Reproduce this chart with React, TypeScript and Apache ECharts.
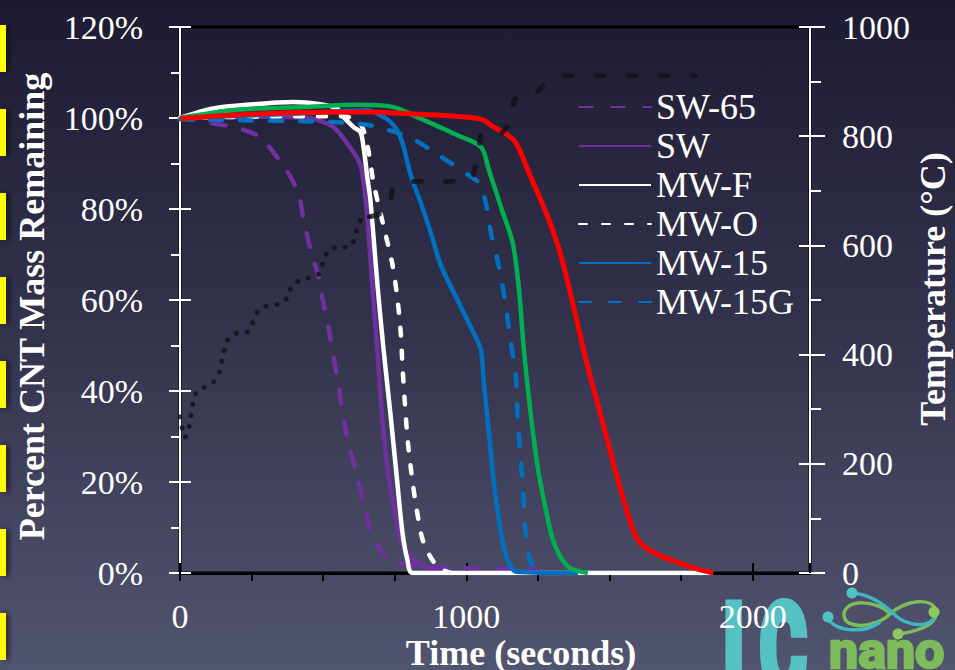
import React, { useEffect, useRef } from "react";
import * as echarts from "echarts";

// ---------- data ----------
const legendNames = ["SW-65", "SW", "MW-F", "MW-O", "MW-15", "MW-15G"];

const SW65: [number, number][] = [
  [0, 100], [70, 99.5], [116, 98.8], [175, 98.2], [245, 96.9], [286, 95.5], [339, 91.4], [368, 89],
  [403, 85], [420, 81.9], [431, 77.5], [444, 74.2], [461, 69.8], [479, 66.2], [501, 59.3], [522, 52.7],
  [536, 47.5], [549, 43], [560, 38.5], [578, 31.4], [595, 27], [619, 21.2], [641, 15.4], [665, 9.4],
  [683, 6.6], [724, 3.3], [759, 2.2], [864, 1.4], [991, 1.1], [1249, 0.7],
];
const SW: [number, number][] = [
  [0, 100], [150, 100.2], [300, 100.3], [431, 100.1], [479, 99.6], [536, 98], [584, 94.4], [623, 90.7],
  [638, 87.4], [654, 78.3], [671, 63.7], [689, 49], [706, 34.3], [724, 23.3], [742, 16], [759, 10.1],
  [781, 5.7], [816, 2.9], [876, 0.7], [921, 0],
];
const MWF: [number, number][] = [
  [0, 100], [116, 102.1], [256, 103], [396, 103.5], [490, 103], [549, 102.1], [560, 101], [606, 98],
  [630, 96.9], [641, 93.6], [654, 87], [665, 81.9], [689, 63.7], [711, 49], [736, 34.3], [759, 19.8],
  [777, 8.8], [794, 2.9], [812, 0], [1860, 0],
];
const MWO: [number, number][] = [
  [0, 100], [420, 100.4], [560, 100.4], [619, 99.5], [641, 97.3], [658, 92.9], [676, 85.7], [711, 76.2],
  [741, 68.1], [759, 60.4], [771, 52.7], [777, 45.3], [785, 37.6], [795, 29.2], [808, 22], [827, 13.8],
  [851, 6.6], [899, 1.4], [946, 0],
];
const MW15: [number, number][] = [
  [0, 100], [420, 101], [654, 101.7], [711, 100.2], [741, 98.8], [764, 96.6], [781, 93.6], [806, 87.4],
  [841, 81.3], [876, 74.7], [911, 67.6], [969, 60], [1026, 52.7], [1051, 49], [1061, 41.7], [1079, 30.7],
  [1096, 19.8], [1121, 8.8], [1144, 2.9], [1173, 0.3], [1390, 0],
];
const MW15G: [number, number][] = [
  [0, 99.7], [536, 99.1], [662, 98.4], [799, 95.8], [904, 91.8], [1009, 87.4], [1044, 85.7], [1068, 81.3],
  [1086, 74.7], [1109, 68.7], [1131, 61.5], [1156, 50.5], [1173, 43.1], [1179, 34.3], [1187, 27],
  [1197, 19.8], [1205, 10.2], [1219, 3.6], [1243, 0.7], [1278, 0],
];
const GREEN: [number, number][] = [
  [0, 100], [199, 101.8], [431, 102.4], [619, 102.9], [746, 102.4], [829, 100.2], [969, 96.2],
  [1051, 93.6], [1079, 88.5], [1121, 80.4], [1162, 72.5], [1184, 62.2], [1201, 49], [1226, 34.3],
  [1249, 23.3], [1278, 13.8], [1306, 6.6], [1355, 1.4], [1424, 0],
];
const RED: [number, number][] = [
  [0, 99.9], [315, 101], [665, 101.3], [781, 101], [911, 100.6], [1016, 100.1], [1061, 99.5], [1086, 98.4],
  [1166, 95.1], [1219, 87.9], [1284, 78.3], [1331, 69.6], [1377, 57.8], [1424, 45.3], [1471, 34.3],
  [1517, 23.3], [1565, 12.7], [1600, 7.2], [1657, 4.4], [1740, 2.3], [1810, 0.8], [1862, 0],
];
const TEMP_A: [number, number][] = [
  [0, 286], [6, 268], [17.5, 248], [31.5, 266], [44, 308], [55, 330], [81, 339], [116, 349], [137, 367],
  [146, 387], [154, 407], [167, 428], [200, 440], [238, 442], [256, 460], [270, 479], [305, 490],
  [347, 492], [375, 503], [388, 523], [420, 538], [459, 541], [490, 549], [501, 571], [515, 591],
  [550, 598], [588, 596], [609, 609], [619, 631], [634, 651], [669, 653],
];
const TEMP_B: [number, number][] = [
  [669, 653], [729, 662], [743, 706], [802, 717], [876, 717], [949, 717], [1022, 721], [1039, 765],
  [1051, 804], [1114, 800], [1156, 826], [1166, 868], [1232, 870], [1271, 895], [1324, 911],
  [1436, 911], [1800, 911],
];

const xMajorLabels = [0, 1000, 2000];

const FONT = "Liberation Serif";
const W = 955;
const H = 670;

export default function App() {
  const ref = useRef<HTMLDivElement>(null);

  useEffect(() => {
    document.body.style.margin = "0";
    document.body.style.overflow = "hidden";
    document.documentElement.style.overflow = "hidden";
    if (!ref.current) return;
    const chart = echarts.init(ref.current, undefined, { renderer: "svg", width: W, height: H });

    echarts.graphic.registerShape(
      "infGreen",
      echarts.graphic.extendPath(
        "M60 26 C48 12 14 10 14 27 C14 42 46 40 60 26 C74 12 104 8 106 24 C107 38 84 44 68 46",
        {}
      )
    );
    echarts.graphic.registerShape(
      "infTeal",
      echarts.graphic.extendPath(
        "M22 5 C40 6 56 18 66 28 C78 38 98 40 104 30 M-2 29 C2 44 34 46 50 34",
        {}
      )
    );

    const line = (
      name: string,
      data: [number, number][],
      color: string,
      width: number,
      type: any = "solid"
    ) => ({
      name,
      type: "line",
      data,
      symbol: "none",
      smooth: 0.3,
      lineStyle: { color, width, type, cap: type === "solid" ? "butt" : "round" },
      itemStyle: { color },
      z: 3,
    });

    const white = "#ffffff";
    const yellowBars = [0, 1, 2, 3, 4, 5, 6, 7].map((i) => ({
      type: "rect",
      shape: { x: 0, y: 25 + i * 84, width: 6, height: 47 },
      style: { fill: "#ffff00", shadowBlur: 6, shadowOffsetX: 3, shadowColor: "rgba(0,0,0,0.6)" },
    }));

    const option: any = {
      animation: false,
      backgroundColor: "transparent",
      grid: {
        left: 180,
        top: 27,
        width: 630,
        height: 546,
        containLabel: false,
        outerBoundsMode: "none",
        show: true,
        borderColor: "#000",
        borderWidth: 3,
        backgroundColor: "transparent",
      },
      legend: {
        data: legendNames,
        orient: "vertical",
        left: 578,
        top: 89,
        padding: 0,
        itemWidth: 72,
        itemHeight: 5,
        itemGap: 3,
        selectedMode: false,
        itemStyle: { opacity: 0 },
        textStyle: { color: white, fontSize: 36, fontFamily: FONT, lineHeight: 36 },
      },
      xAxis: [
        {
          type: "value",
          min: 0,
          max: 2200,
          interval: 250,
          position: "bottom",
          axisLine: { show: true, onZero: false, lineStyle: { color: "#000", width: 3 } },
          axisTick: { show: true, length: 8, lineStyle: { color: "#000", width: 2 } },
          axisLabel: {
            color: white,
            fontSize: 34,
            fontFamily: FONT,
            margin: 26,
            showMaxLabel: false,
            formatter: (v: number) => (xMajorLabels.indexOf(v) >= 0 ? String(v) : ""),
          },
          splitLine: { show: false },
          name: "Time (seconds)",
          nameLocation: "middle",
          nameMoveOverlap: false,
          nameGap: 62,
          nameTextStyle: {
            color: white,
            fontSize: 36,
            fontWeight: "bold",
            fontFamily: FONT,
            padding: [0, 0, 0, 52],
          },
        },
        {
          type: "value",
          min: 0,
          max: 2200,
          interval: 1000,
          position: "bottom",
          axisLine: { show: false, onZero: false },
          axisTick: { show: true, inside: true, length: 10, lineStyle: { color: "#000", width: 2 } },
          axisLabel: { show: false },
          splitLine: { show: false },
        },
      ],
      yAxis: [
        {
          type: "value",
          min: 0,
          max: 120,
          interval: 20,
          position: "left",
          axisLine: { show: true, onZero: false, lineStyle: { color: white, width: 2 } },
          axisTick: { show: true, length: 11, lineStyle: { color: white, width: 2 } },
          minorTick: { show: true, splitNumber: 2, length: 9, lineStyle: { color: white, width: 2 } },
          axisLabel: { color: white, fontSize: 34, fontFamily: FONT, margin: 37, formatter: "{value}%" },
          splitLine: { show: false },
          minorSplitLine: { show: false },
          name: "Percent CNT Mass Remaining",
          nameLocation: "middle",
          nameMoveOverlap: false,
          nameRotate: 90,
          nameGap: 130,
          nameTextStyle: {
            color: white,
            fontSize: 36,
            fontWeight: "bold",
            fontFamily: FONT,
            padding: [0, 13, 0, 0],
          },
        },
        {
          type: "value",
          min: 0,
          max: 1000,
          interval: 200,
          position: "right",
          axisLine: { show: true, onZero: false, lineStyle: { color: white, width: 2 } },
          axisTick: { show: true, length: 15, lineStyle: { color: white, width: 2 } },
          minorTick: { show: true, splitNumber: 2, length: 11, lineStyle: { color: white, width: 2 } },
          axisLabel: {
            color: white,
            fontSize: 34,
            fontFamily: FONT,
            margin: 32,
            formatter: (v: number) => String(v),
          },
          splitLine: { show: false },
          minorSplitLine: { show: false },
          name: "Temperature (°C)",
          nameLocation: "middle",
          nameMoveOverlap: false,
          nameRotate: 90,
          nameGap: 105,
          nameTextStyle: {
            color: white,
            fontSize: 36,
            fontWeight: "bold",
            fontFamily: FONT,
            padding: [0, 0, 0, 22],
          },
        },
        {
          type: "value",
          min: 0,
          max: 120,
          interval: 20,
          position: "left",
          axisLine: { show: false, onZero: false },
          axisTick: { show: true, inside: true, length: 11, lineStyle: { color: white, width: 2 } },
          axisLabel: { show: false },
          splitLine: { show: false },
        },
        {
          type: "value",
          min: 0,
          max: 1000,
          interval: 200,
          position: "right",
          axisLine: { show: false, onZero: false },
          axisTick: { show: true, inside: true, length: 11, lineStyle: { color: white, width: 2 } },
          axisLabel: { show: false },
          splitLine: { show: false },
        },
      ],
      series: [
        line("SW-65", SW65, "#7030a0", 4.5, [14, 18]),
        line("SW", SW, "#7030a0", 4.5),
        line("MW-F", MWF, white, 4.5),
        line("MW-O", MWO, white, 4.5, [8, 15]),
        line("MW-15", MW15, "#0070c0", 4.5),
        line("MW-15G", MW15G, "#0070c0", 4.5, [12, 18]),
        line("MW-15 (annealed)", GREEN, "#00b050", 4.5),
        line("MW-15 (oxidized)", RED, "#ff0000", 5),
        {
          name: "Temperature",
          type: "line",
          yAxisIndex: 1,
          data: TEMP_A,
          symbol: "none",
          lineStyle: { color: "#111118", width: 5, type: [0.1, 11], cap: "round", opacity: 0.8 },
          z: 4,
        },
        {
          name: "Temperature ",
          type: "line",
          yAxisIndex: 1,
          data: TEMP_B,
          symbol: "none",
          lineStyle: { color: "#111118", width: 5, type: [8, 24], cap: "round", opacity: 0.8 },
          z: 4,
        },
      ],
      graphic: [
        ...yellowBars,
        {
          type: "group",
          z: -1,
          children: [
            {
              type: "text",
              x: 724,
              y: 590,
              scaleX: 0.6,
              style: {
                text: "LC",
                fill: "#55c1c3",
                stroke: "#55c1c3",
                lineWidth: 10,
                font: "bold 118px Roboto",
                textVerticalAlign: "top",
              },
            },
            {
              type: "text",
              x: 829,
              y: 626,
              scaleX: 1.04,
              style: {
                text: "nano",
                fill: "#7dbb5b",
                stroke: "#7dbb5b",
                lineWidth: 2.5,
                font: "bold 50px Roboto",
                textVerticalAlign: "top",
              },
            },
            {
              type: "infGreen",
              x: 830,
              y: 588,
              style: { stroke: "#7dbb5b", lineWidth: 3.5, fill: "none" },
            },
            {
              type: "infTeal",
              x: 830,
              y: 588,
              style: { stroke: "#3fb6c0", lineWidth: 3.5, fill: "none" },
            },
            { type: "circle", shape: { cx: 852, cy: 593, r: 5.5 }, style: { fill: "#4fc3c8" } },
            { type: "circle", shape: { cx: 828, cy: 617, r: 5.5 }, style: { fill: "#4fc3c8" } },
            { type: "circle", shape: { cx: 934, cy: 612, r: 5.5 }, style: { fill: "#8cc860" } },
            { type: "circle", shape: { cx: 898, cy: 634, r: 5.5 }, style: { fill: "#8cc860" } },
          ],
        },
      ],
    };

    chart.setOption(option);
    return () => chart.dispose();
  }, []);

  return (
    <div
      ref={ref}
      style={{
        position: "fixed",
        left: 0,
        top: 0,
        width: W,
        height: H,
        background: "linear-gradient(180deg, #1d1b31 0%, #34334e 50%, #52556f 100%)",
      }}
    />
  );
}
